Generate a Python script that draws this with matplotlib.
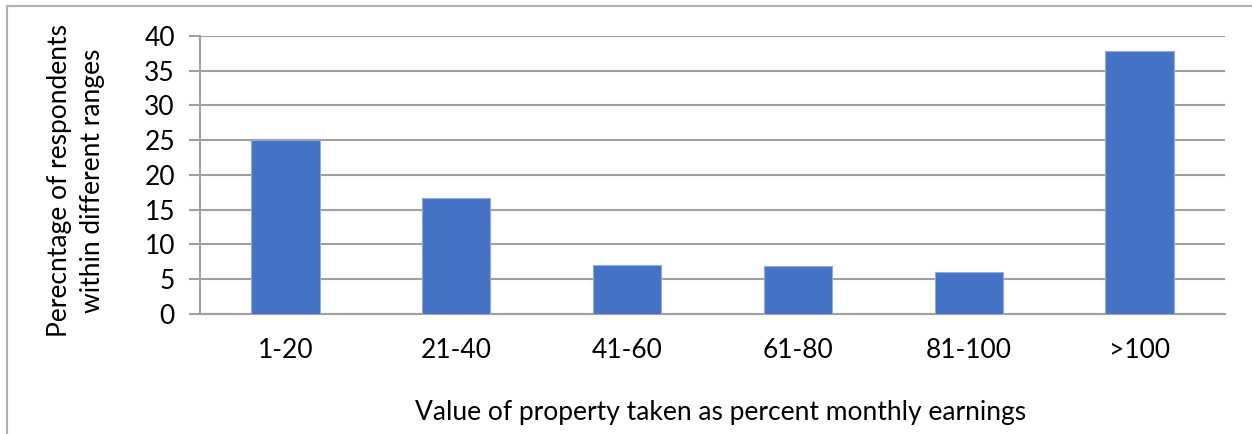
import matplotlib
matplotlib.use("Agg")
import matplotlib.pyplot as plt
from matplotlib.patches import Rectangle

plt.rcParams['font.family'] = ['Lato', 'DejaVu Sans']

# data
categories = ['1-20', '21-40', '41-60', '61-80', '81-100', '>100']
percent = [25.0, 16.7, 7.1, 6.9, 6.1, 37.8]
y_ticks = [0, 5, 10, 15, 20, 25, 30, 35, 40]

fig = plt.figure(figsize=(12.52, 4.34), dpi=100)
ax = fig.add_axes([0.1597, 0.2765, 0.8187, 0.6412])

x = range(len(categories))
ax.bar(x, percent, width=0.4, color='#4472C4', edgecolor='#8faadc', linewidth=0.8, zorder=3)

ax.set_xlim(-0.5, len(categories) - 0.5)
ax.set_ylim(0, 40)
ax.set_yticks(y_ticks)
ax.set_xticks(list(x))
ax.set_xticklabels(categories)
ax.yaxis.grid(True, color='#a0a0a0', linewidth=1.5, zorder=0)
ax.set_axisbelow(True)

for s in ['top', 'right']:
    ax.spines[s].set_visible(False)
ax.spines['left'].set_color('#a0a0a0')
ax.spines['left'].set_linewidth(1.5)
ax.spines['bottom'].set_color('#a0a0a0')
ax.spines['bottom'].set_linewidth(1.5)

fs = 19
ax.tick_params(axis='y', length=8, width=1.5, color='#a0a0a0', labelsize=fs, pad=10)
ax.tick_params(axis='x', length=0, labelsize=fs, pad=17)

ax.set_xlabel('Value of property taken as percent monthly earnings', fontsize=fs, labelpad=27)
ax.xaxis.label.set_x(0.508)
ax.set_ylabel('Perecntage of respondents\nwithin different ranges', fontsize=fs,
              labelpad=28, linespacing=1.4)
ax.yaxis.label.set_y(0.478)

# outer chart border (cut off at right and bottom)
fig.patches.append(Rectangle((7 / 1252, -0.1), 1.2, 1.1 - 6 / 434, transform=fig.transFigure,
                             fill=False, edgecolor='#b0b0b0', linewidth=1.5))

fig.savefig('out.png', dpi=100)
